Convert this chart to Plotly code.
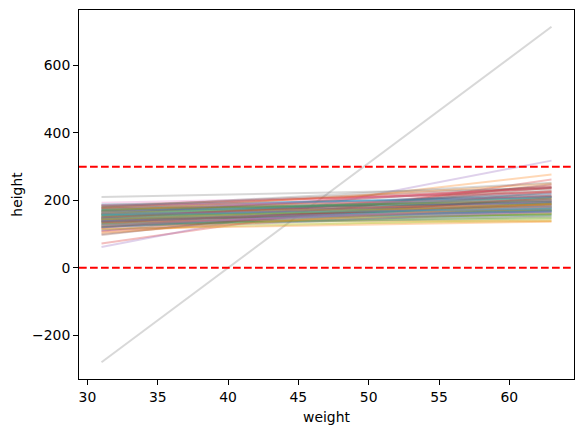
import plotly.graph_objects as go

weight_range = [31, 63]

# Height of each prior-predictive line at weight 31 (start) and weight 63 (end)
h_start = [150, 160, 140, 72, 62, 170, 193, -280, 135, 155,
           128, 125, 168, 145, 132, 110, 175, 210, 158, 142,
           162, 138, 150, 118, 170, 100, 180, 160, 125, 165,
           146, 185, 136, 158, 120, 148, 130, 155, 143, 172,
           134, 115, 178, 140, 166, 97, 152, 138, 182, 128,
           175, 152, 122, 186, 145, 163, 118, 170, 160, 137,
           184, 132, 155, 108, 176, 142, 165, 126, 150, 188,
           120, 168, 146, 178, 112, 155, 140, 180, 166, 150,
           139, 176, 130, 150, 160, 122, 186, 145, 115, 158,
           168, 104, 172, 135, 148, 182, 126, 162, 144, 156]
h_end = [190, 205, 170, 262, 318, 215, 222, 715, 150, 185,
         176, 277, 182, 228, 196, 238, 198, 236, 170, 160,
         212, 140, 166, 245, 195, 225, 210, 188, 139, 176,
         200, 202, 180, 240, 178, 222, 172, 210, 156, 190,
         155, 137, 190, 205, 184, 248, 196, 230, 196, 170,
         218, 172, 162, 226, 180, 236, 200, 180, 208, 185,
         210, 160, 172, 210, 200, 184, 238, 152, 162, 205,
         192, 250, 158, 236, 168, 196, 164, 252, 178, 168,
         168, 186, 147, 214, 176, 206, 200, 168, 145, 210,
         195, 190, 200, 190, 166, 240, 182, 172, 190, 176]

limits = [0, 300]

tab10 = [(31, 119, 180), (255, 127, 14), (44, 160, 44), (214, 39, 40),
         (148, 103, 189), (140, 86, 75), (227, 119, 194), (127, 127, 127),
         (188, 189, 34), (23, 190, 207)]

fig = go.Figure()
for i, (a, b) in enumerate(zip(h_start, h_end)):
    r, g, bl = tab10[i % 10]
    fig.add_trace(go.Scatter(
        x=weight_range, y=[a, b], mode="lines",
        line=dict(color=f"rgba({r},{g},{bl},0.3)", width=2),
        showlegend=False, hoverinfo="skip"))

for y in limits:
    fig.add_hline(y=y, line=dict(color="red", dash="7.7px,3.3px", width=2))

font = dict(family="DejaVu Sans", size=13.9, color="black")
axis_common = dict(showgrid=False, zeroline=False, showline=True, mirror=True,
                   linecolor="black", linewidth=1, ticks="outside", ticklen=5,
                   tickwidth=1, tickcolor="black", tickfont=font)

fig.update_layout(
    width=584, height=433,
    margin=dict(l=79, r=10, t=10, b=54),
    plot_bgcolor="white", paper_bgcolor="white",
    font=font,
    xaxis=dict(range=[29.4, 64.6], tickvals=[30, 35, 40, 45, 50, 55, 60],
               title=dict(text="weight", font=font, standoff=8), **axis_common),
    yaxis=dict(range=[-329.75, 764.75], tickvals=[-200, 0, 200, 400, 600],
               title=dict(text="height", font=font, standoff=6), **axis_common),
)

fig.write_html("out.html")
